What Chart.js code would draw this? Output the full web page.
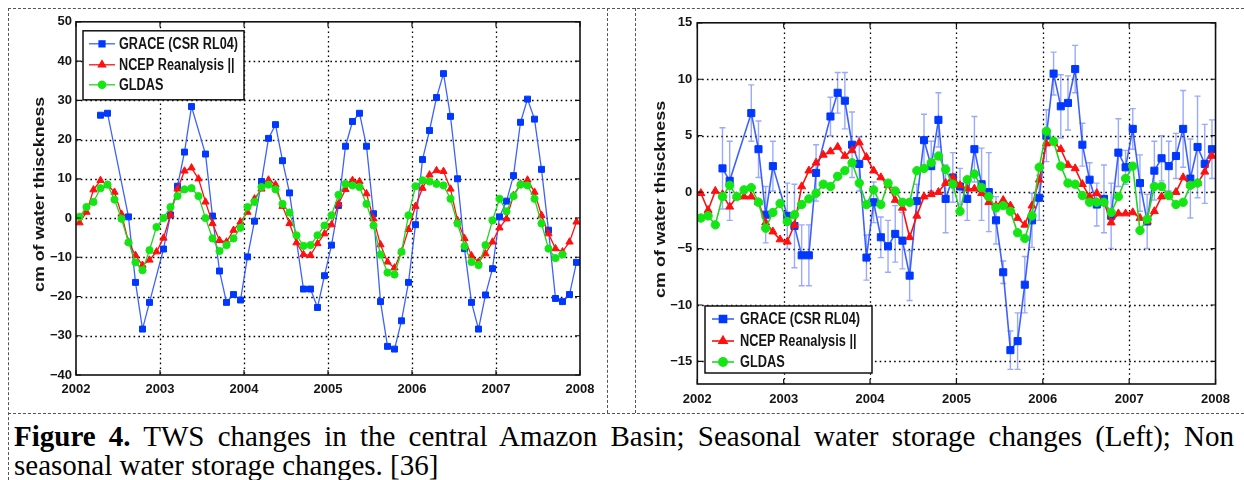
<!DOCTYPE html>
<html><head><meta charset="utf-8">
<script src="https://cdn.jsdelivr.net/npm/chart.js@4/dist/chart.umd.min.js"></script>
<style>
html,body{margin:0;padding:0;background:#fff;width:1244px;height:480px;overflow:hidden;position:relative}
.dl{position:absolute;border:0 dashed #555}
canvas{position:absolute}
#cap{position:absolute;left:14px;top:422px;width:1220px;font-family:"Liberation Serif","Times New Roman",serif;font-size:29px;line-height:29px;text-align:justify;color:#000}
</style></head><body>
<div class="dl" style="left:8px;top:8px;width:1236px;height:0;border-top-width:1px"></div>
<div class="dl" style="left:8px;top:413px;width:1236px;height:0;border-top-width:1px"></div>
<div class="dl" style="left:8px;top:8px;width:0;height:472px;border-left-width:1px"></div>
<div class="dl" style="left:607px;top:8px;width:0;height:405px;border-left-width:1px"></div>
<div class="dl" style="left:635px;top:8px;width:0;height:405px;border-left-width:1px"></div>
<canvas id="left" width="592" height="398" style="left:10px;top:10px;width:592px;height:398px"></canvas>
<canvas id="right" width="598" height="400" style="left:640px;top:10px;width:598px;height:400px"></canvas>
<div id="cap"><b>Figure 4.</b> TWS changes in the central Amazon Basin; Seasonal water storage changes (Left); Non seasonal water storage changes. [36]</div>
<script>
// ---------------- data ----------------
const START_YEAR = 2002;
const X_TICKS = [2002, 2003, 2004, 2005, 2006, 2007, 2008];
const LEFT_Y_TICKS = [-40, -30, -20, -10, 0, 10, 20, 30, 40, 50];
const RIGHT_Y_TICKS = [-15, -10, -5, 0, 5, 10, 15];
const SERIES_NAMES = ['GRACE (CSR RL04)', 'NCEP Reanalysis ||', 'GLDAS'];
const Y_TITLE = 'cm of water thisckness';

// monthly values, Jan 2002 .. Dec 2007 (null = no value)
const leftGrace = [
  null, null, null, 26.2, 26.7, null, null, 0.3, -16.4, -28.3, -21.5, null,
  -7.9, 0.8, 8.1, 16.8, 28.4, null, 16.3, 0.5, -13.5, -21.5, -19.5, -20.9,
  -9.9, -0.8, 9.3, 20.3, 23.8, 14.6, 6.4, null, -18.1, -18.1, -22.8, -14.7,
  -6.9, 3.2, 18.3, 24.6, 26.7, 18.3, 1.1, -21.3, -32.7, -33.4, -26.2, -16.4,
  -1.7, 14.9, 22.3, 30.7, 36.8, 25.9, 10.0, -7.8, -21.5, -28.3, -19.6, -12.9,
  0.3, 4.3, 10.8, 24.4, 30.3, 25.2, 12.4, -3.1, -20.5, -21.3, -19.5, -11.3];
const leftNcep = [
  -1.2, 1.5, 7.2, 9.6, 8.4, 6.6, 1.0, -6.1, -9.5, -12.0, -10.7, -8.6,
  -5.1, 0.8, 7.4, 12.0, 12.8, 10.0, 4.1, -1.4, -5.7, -6.1, -3.1, -1.0,
  1.5, 4.9, 7.4, 9.7, 8.5, 3.0, -1.4, -6.3, -9.3, -9.5, -6.5, -4.0,
  -1.7, 3.6, 7.3, 9.6, 9.3, 6.2, -0.2, -6.8, -11.2, -12.7, -8.6, -2.9,
  3.0, 7.6, 11.0, 12.1, 11.9, 7.4, -0.6, -5.2, -9.6, -11.2, -9.1, -6.1,
  -2.5, -0.2, 5.8, 8.7, 9.7, 6.6, 0.7, -4.0, -7.8, -8.6, -6.1, -1.0];
const leftGldas = [
  0.3, 2.8, 4.1, 7.6, 8.5, 4.7, -0.2, -6.2, -11.3, -13.3, -8.2, -2.3,
  0.0, 2.8, 5.6, 7.3, 7.6, 5.6, 0.0, -5.2, -8.4, -6.9, -5.2, -2.5,
  2.8, 4.1, 7.9, 8.5, 7.3, 3.6, 1.4, -4.4, -7.1, -6.9, -4.4, -1.9,
  0.7, 5.9, 8.7, 8.3, 7.9, 3.6, -1.9, -9.3, -13.9, -14.4, -8.6, 0.7,
  8.1, 9.6, 9.3, 8.7, 8.3, 4.9, -1.4, -7.2, -11.2, -12.0, -6.9, -0.6,
  4.9, 1.7, 5.6, 8.5, 8.3, 4.9, -1.4, -7.8, -10.2, -9.3, null, null];

const rightGrace = [
  null, null, null, 2.1, 1.0, null, null, 7.0, 3.8, -2.0, 2.3, null,
  -2.1, -3.0, -5.6, -5.6, 1.7, null, 6.7, 8.8, 8.1, 4.2, 2.5, -5.8,
  -0.9, -4.0, -4.8, -3.7, -4.3, -7.4, -0.8, 4.6, 2.3, 6.4, -0.6, 1.3,
  0.5, -0.6, 3.8, 0.7, 0.0, -2.5, -7.1, -14.0, -13.2, -8.2, -2.5, -0.5,
  5.0, 10.5, 7.6, 7.9, 10.9, 4.2, 1.1, -1.1, -0.6, -2.1, 3.5, 2.2,
  5.6, 0.8, -2.6, 1.9, 3.0, 2.3, 3.2, 5.6, 1.2, 4.0, 2.5, 3.8];
const rightGraceErr = [
  null, null, null, 3.6, 3.5, null, null, 2.5, 2.5, 2.5, 2.2, null,
  2.9, 3.7, 2.7, 2.7, 2.5, null, 1.7, 1.8, 2.5, 2.9, 2.4, 2.0,
  1.8, 1.8, 2.3, 2.5, 2.5, 2.2, 1.5, 2.3, 2.2, 2.4, 3.0, 2.2,
  1.6, 1.9, 2.9, 3.2, 3.5, 2.1, 1.0, 1.7, 2.5, 2.5, 2.4, 2.0,
  2.3, 1.9, 2.8, 2.4, 2.1, 1.9, 1.5, 1.9, 3.0, 2.9, 3.0, 1.5,
  1.8, 2.5, 2.4, 2.6, 2.0, 2.2, 2.0, 3.4, 3.5, 4.5, 3.5, 2.6];
const rightNcep = [
  -0.1, -1.6, 0.1, -0.2, -1.3, -0.4, -0.4, -0.4, -0.9, -2.7, -3.5, -4.2,
  -4.4, -2.9, 0.5, 1.9, 2.6, 3.3, 3.6, 4.0, 3.2, 3.7, 4.4, 3.1,
  1.9, 1.3, 0.6, -0.7, -1.4, -4.0, -2.1, -0.4, -0.2, 0.0, 0.8, 1.3,
  0.6, 0.3, 0.3, -0.1, -0.9, -1.2, -0.7, -1.2, -2.3, -2.9, -1.2, 1.1,
  4.3, 4.4, 3.8, 2.4, 2.1, 0.7, -0.4, -0.1, -0.9, -2.7, -1.9, -1.9,
  -1.8, -2.3, -2.6, -1.7, -0.4, -0.3, 0.0, 1.3, 0.6, 0.8, 1.8, 3.2];
const rightGldas = [
  -2.3, -2.1, -2.9, -0.4, 0.6, -0.4, 0.2, 0.4, -0.9, -3.2, -1.8, -1.0,
  -2.6, -2.0, -1.1, -0.6, -0.1, 0.7, 0.5, 1.4, 1.9, 2.6, 0.8, -1.1,
  0.2, -1.1, 0.8, 0.1, -0.9, -0.9, 1.9, 2.1, 2.6, 3.2, 2.0, 0.7,
  -1.7, 1.1, 1.6, 0.4, -0.4, -1.4, -1.2, -1.7, -3.6, -4.1, -2.1, 2.2,
  5.4, 4.5, 2.3, 0.8, 0.7, -0.3, -0.9, -0.9, -0.9, -1.8, -0.4, 1.2,
  2.3, -3.4, -2.4, 0.5, 0.5, -0.3, -1.1, -0.9, 0.6, 0.8, null, null];

// ---------------- helpers ----------------
const toXY = arr => arr.map((v, i) => ({ x: START_YEAR + (i + 0.5) / 12, y: v }));

function hasFont(name) {
  const c = document.createElement('canvas').getContext('2d');
  const s = 'GRACE (CSR RL04) 2002 0123456789 thisckness';
  c.font = 'bold 16px monospace'; const a = c.measureText(s).width;
  c.font = 'bold 16px "' + name + '", monospace'; const b = c.measureText(s).width;
  return Math.abs(a - b) > 0.5;
}
const NARROW = hasFont('Liberation Sans Narrow');
const FAMILY = NARROW ? '"Liberation Sans Narrow", "Liberation Sans", Arial, sans-serif' : '"Liberation Sans", Arial, sans-serif';
const TICK_FONT = { family: FAMILY, size: NARROW ? 15 : 13, weight: 'bold' };
const INK = '#151515';

const BLUE = '#0038ff', BLUE_LINE = 'rgba(40,80,255,0.9)';
const RED = '#ff1010', GREEN = '#14e614', GREEN_LINE = '#22d422';

// ---------------- plugin: grid, frame, ticks, error bars, legend, y title ----------------
const matlabPlugin = {
  id: 'matlab',
  beforeDatasetsDraw(chart, args, o) {
    const { ctx, chartArea: a, scales: { x, y } } = chart;
    ctx.save();
    ctx.strokeStyle = '#000'; ctx.lineWidth = 1.3; ctx.setLineDash([1.6, 3.2]);
    ctx.beginPath();
    for (const v of o.xTicks) {
      const px = Math.round(x.getPixelForValue(v)) + 0.5;
      if (px <= a.left + 2 || px >= a.right - 2) continue;
      ctx.moveTo(px, a.top); ctx.lineTo(px, a.bottom);
    }
    for (const v of o.yTicks) {
      const py = Math.round(y.getPixelForValue(v)) + 0.5;
      if (py <= a.top + 2 || py >= a.bottom - 2) continue;
      ctx.moveTo(a.left, py); ctx.lineTo(a.right, py);
    }
    ctx.stroke();
    ctx.setLineDash([]);
    if (o.err) {
      const ds = chart.data.datasets[0];
      ctx.strokeStyle = o.errColor; ctx.lineWidth = 1.4;
      ctx.beginPath();
      ds.data.forEach((p, i) => {
        const e = o.err[i];
        if (p.y == null || e == null) return;
        const px = x.getPixelForValue(p.x);
        const y1 = y.getPixelForValue(p.y + e), y2 = y.getPixelForValue(p.y - e);
        ctx.moveTo(px, y1); ctx.lineTo(px, y2);
        ctx.moveTo(px - 3, y1); ctx.lineTo(px + 3, y1);
        ctx.moveTo(px - 3, y2); ctx.lineTo(px + 3, y2);
      });
      ctx.stroke();
    }
    ctx.restore();
  },
  afterDatasetsDraw(chart, args, o) {
    const { ctx, chartArea: a, scales: { x, y } } = chart;
    ctx.save();
    ctx.strokeStyle = '#111'; ctx.lineWidth = 1.6;
    ctx.strokeRect(a.left, a.top, a.right - a.left, a.bottom - a.top);
    ctx.lineWidth = 1.2; ctx.beginPath();
    const L = 5;
    for (const v of o.xTicks) {
      const px = x.getPixelForValue(v);
      ctx.moveTo(px, a.bottom); ctx.lineTo(px, a.bottom - L);
      ctx.moveTo(px, a.top); ctx.lineTo(px, a.top + L);
    }
    for (const v of o.yTicks) {
      const py = y.getPixelForValue(v);
      ctx.moveTo(a.left, py); ctx.lineTo(a.left + L, py);
      ctx.moveTo(a.right, py); ctx.lineTo(a.right - L, py);
    }
    ctx.stroke();
    ctx.restore();
  },
  afterDraw(chart, args, o) {
    const { ctx, chartArea: a } = chart;
    // y-axis title
    ctx.save();
    ctx.font = 'bold 15px ' + FAMILY;
    const tw = ctx.measureText(Y_TITLE).width;
    ctx.translate(a.left + o.titleDx, (a.top + a.bottom) / 2 + o.titleDy);
    ctx.rotate(-Math.PI / 2);
    ctx.scale(o.titleLen / tw, 1);
    ctx.fillStyle = INK; ctx.textAlign = 'center'; ctx.textBaseline = 'middle';
    ctx.fillText(Y_TITLE, 0, 0);
    ctx.restore();
    // legend
    const g = o.legend;
    const bx = a.left + g.dx, by = g.fromBottom ? a.bottom - g.dy : a.top + g.dy;
    ctx.save();
    ctx.fillStyle = '#fff'; ctx.fillRect(bx, by, g.w, g.h);
    ctx.strokeStyle = '#111'; ctx.lineWidth = 1.5; ctx.strokeRect(bx, by, g.w, g.h);
    ctx.font = 'bold 16px ' + FAMILY;
    const sx = g.textW / ctx.measureText(SERIES_NAMES[0]).width;
    chart.data.datasets.forEach((ds, i) => {
      const cy = by + g.rows[i];
      ctx.strokeStyle = ds.borderColor; ctx.lineWidth = ds.borderWidth;
      ctx.beginPath(); ctx.moveTo(bx + g.lx0, cy); ctx.lineTo(bx + g.lx1, cy); ctx.stroke();
      ctx.fillStyle = ds.pointBackgroundColor; ctx.strokeStyle = ds.pointBorderColor;
      Chart.helpers.drawPoint(ctx, { pointStyle: ds.pointStyle, radius: ds.pointRadius, rotation: 0, borderWidth: 1 }, bx + (g.lx0 + g.lx1) / 2, cy);
      ctx.save();
      ctx.translate(bx + g.tx, cy + 1);
      ctx.scale(sx, 1);
      ctx.fillStyle = INK; ctx.textAlign = 'left'; ctx.textBaseline = 'middle';
      ctx.fillText(ds.label, 0, 0);
      ctx.restore();
    });
    ctx.restore();
  }
};

function makeChart(id, series, cfg) {
  const mk = (i, data, color, lineColor, style, r) => ({
    label: SERIES_NAMES[i], data: toXY(data),
    borderColor: lineColor, borderWidth: cfg.lineW,
    pointStyle: style, pointRadius: r, pointBackgroundColor: color, pointBorderColor: color,
    pointBorderWidth: 1, spanGaps: true, tension: 0, order: 2 - i
  });
  return new Chart(document.getElementById(id), {
    type: 'line',
    data: {
      datasets: [
        mk(0, series[0], BLUE, BLUE_LINE, 'rect', cfg.rGrace),
        mk(1, series[1], RED, RED, 'triangle', cfg.rNcep),
        mk(2, series[2], GREEN, GREEN_LINE, 'circle', cfg.rGldas)
      ]
    },
    options: {
      responsive: false, animation: false, devicePixelRatio: 1,
      layout: { padding: cfg.padding },
      plugins: { legend: { display: false }, tooltip: { enabled: false }, matlab: cfg.matlab },
      scales: {
        x: {
          type: 'linear', min: 2002, max: 2008,
          grid: { display: false, drawTicks: false }, border: { display: false },
          afterBuildTicks: s => { s.ticks = X_TICKS.map(v => ({ value: v })); },
          afterFit: s => { s.height = cfg.xH; },
          ticks: { color: INK, font: TICK_FONT, padding: cfg.xPad, maxRotation: 0, autoSkip: false, callback: v => String(v) }
        },
        y: {
          type: 'linear', min: cfg.yMin, max: cfg.yMax,
          grid: { display: false, drawTicks: false }, border: { display: false },
          afterBuildTicks: s => { s.ticks = cfg.yTicks.map(v => ({ value: v })); },
          afterFit: s => { s.width = cfg.yW; },
          ticks: { color: INK, font: TICK_FONT, padding: cfg.yPad, callback: v => (v < 0 ? '\u2212' + Math.abs(v) : String(v)) }
        }
      }
    },
    plugins: [matlabPlugin]
  });
}

makeChart('left', [leftGrace, leftNcep, leftGldas], {
  lineW: 1.3, rGrace: 4.2, rNcep: 4.2, rGldas: 3.6,
  padding: { top: 9, right: 22, bottom: 0, left: 0 },
  xH: 33, yW: 66, xPad: 7, yPad: 4,
  yMin: -40, yMax: 50, yTicks: LEFT_Y_TICKS,
  matlab: {
    xTicks: X_TICKS, yTicks: LEFT_Y_TICKS,
    titleDx: -36, titleDy: -4, titleLen: 195,
    legend: { dx: 7, dy: 9, fromBottom: false, w: 161, h: 69, rows: [13, 34, 54], lx0: 6, lx1: 32, tx: 36, textW: 119 }
  }
});

makeChart('right', [rightGrace, rightNcep, rightGldas], {
  lineW: 1.6, rGrace: 5, rNcep: 4.6, rGldas: 4.2,
  padding: { top: 9.3, right: 18.7, bottom: 0, left: 0 },
  xH: 26, yW: 57.3, xPad: 8, yPad: 5,
  yMin: -17, yMax: 15, yTicks: RIGHT_Y_TICKS,
  matlab: {
    xTicks: X_TICKS, yTicks: RIGHT_Y_TICKS,
    titleDx: -36.3, titleDy: -4, titleLen: 197,
    err: rightGraceErr, errColor: 'rgba(70,100,255,0.55)',
    legend: { dx: 7.7, dy: 78, fromBottom: true, w: 167, h: 67, rows: [13, 35, 56], lx0: 7, lx1: 29, tx: 35, textW: 120 }
  }
});
</script>
</body></html>
